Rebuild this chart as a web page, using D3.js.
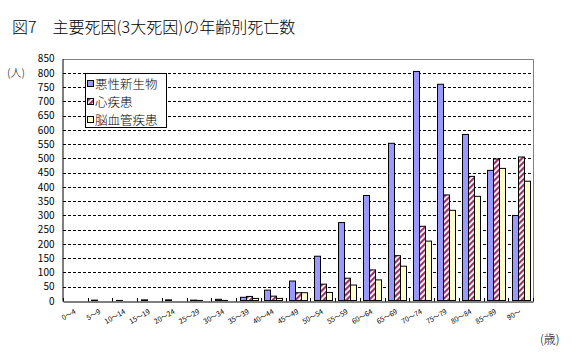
<!DOCTYPE html>
<html><head><meta charset="utf-8">
<script src="https://cdn.jsdelivr.net/npm/d3@7/dist/d3.min.js"></script>
<style>
html,body{margin:0;padding:0;background:#fff;}
svg{display:block;}
text{font-family:"Noto Sans CJK JP","Noto Sans",sans-serif;}
</style></head>
<body>
<svg id="chart" width="580" height="364"></svg>
<script>
const categories = ["0～4","5～9","10～14","15～19","20～24","25～29","30～34","35～39","40～44","45～49","50～54","55～59","60～64","65～69","70～74","75～79","80～84","85～89","90～"];
const seriesNames = ["悪性新生物","心疾患","脳血管疾患"];
const cancer = [1,3,2,4,4,3,6,13,38,70,157,275,370,553,805,760,584,458,300];
const heart = [0,0,1,1,1,2,2,16,17,29,59,80,109,159,262,372,437,498,505];
const stroke = [0,0,0,0,0,1,1,9,9,29,30,56,74,122,210,318,367,465,420];
const yTicks = [0,50,100,150,200,250,300,350,400,450,500,550,600,650,700,750,800,850];

const svg = d3.select("#chart");
const L = 63, R = 533, T = 58.6, B = 301;

const defs = svg.append("defs");
const pat = defs.append("pattern").attr("id","hatch").attr("patternUnits","userSpaceOnUse")
  .attr("width",4).attr("height",4).attr("patternTransform","rotate(45)");
pat.append("rect").attr("width",4).attr("height",4).attr("fill","#fff");
pat.append("rect").attr("width",2.2).attr("height",4).attr("fill","#993366");

const fills = ["#9999FF","url(#hatch)","#FFFFCC"];
const data = [cancer, heart, stroke];

const x0 = d3.scaleBand().domain(categories).range([L,R]).padding(0);
const bw = x0.bandwidth();
const groupW = 18;
const x1 = d3.scaleBand().domain(seriesNames).range([(bw-groupW)/2,(bw+groupW)/2]).padding(0);
const y = d3.scaleLinear().domain([0,850]).range([B,T]);

// title
svg.append("text").attr("x",12).attr("y",33).attr("font-size",16).attr("font-weight",300).attr("fill","#000")
  .text("図7　主要死因(3大死因)の年齢別死亡数");

// gridlines
svg.append("g").selectAll("line").data(yTicks.filter(v=>v>0 && v<850)).join("line")
  .attr("x1",L).attr("x2",R).attr("y1",d=>Math.round(y(d))+0.5).attr("y2",d=>Math.round(y(d))+0.5)
  .attr("stroke","#000").attr("stroke-width",1).attr("stroke-dasharray","3,2");

// plot border top/right (gray)
svg.append("line").attr("x1",L).attr("x2",R+0.5).attr("y1",Math.round(T)+0.5).attr("y2",Math.round(T)+0.5).attr("stroke","#808080");
svg.append("line").attr("x1",R+0.5).attr("x2",R+0.5).attr("y1",Math.round(T)+0.5).attr("y2",B).attr("stroke","#808080");

// bars
const bars = [];
categories.forEach((c,i)=>{
  seriesNames.forEach((s,j)=>{
    const v = data[j][i];
    if (v>0) bars.push({c,s,v,j});
  });
});
svg.append("g").selectAll("rect").data(bars).join("rect")
  .attr("x",d=>Math.round(x0(d.c)+x1(d.s))+0.5)
  .attr("width",Math.round(x1.bandwidth()))
  .attr("y",d=>y(d.v))
  .attr("height",d=>Math.max(0,B-0.5-y(d.v)))
  .attr("fill",d=>fills[d.j]).attr("stroke","#000").attr("stroke-width",1);

// y axis
const yAxis = d3.axisLeft(y).tickValues(yTicks).tickSize(0).tickPadding(8);
const yg = svg.append("g").attr("transform",`translate(${L-0.5},0)`).call(yAxis);
yg.select(".domain").attr("stroke","#000");
yg.selectAll("text").attr("font-family","'Liberation Sans',Arial,sans-serif").attr("font-size",10).attr("fill","#000");

// x axis
const xAxis = d3.axisBottom(x0).tickSize(0).tickFormat("");
const xg = svg.append("g").attr("transform",`translate(0,${Math.round(B)+0.5})`).call(xAxis);
xg.select(".domain").attr("stroke","#000");
xg.selectAll(".tick").remove();
// boundary ticks (inside)
const bounds = categories.map(c=>x0(c)).concat([R]);
svg.append("g").selectAll("line").data(bounds).join("line")
  .attr("x1",d=>Math.round(d)+0.5).attr("x2",d=>Math.round(d)+0.5)
  .attr("y1",Math.round(B)-3).attr("y2",Math.round(B)+0.5).attr("stroke","#000");

// x labels
svg.append("g").selectAll("text").data(categories).join("text")
  .attr("transform",d=>`translate(${x0(d)+bw/2+1},313) rotate(-30)`)
  .attr("text-anchor","end").attr("font-size",7).attr("fill","#000")
  .text(d=>d);

// unit labels
svg.append("text").attr("x",7).attr("y",77).attr("font-size",11).attr("font-weight",300).attr("fill","#000").text("(人)");
svg.append("text").attr("x",540).attr("y",344).attr("font-size",12).attr("font-weight",300).attr("fill","#000").text("(歳)");

// legend
const lg = svg.append("g");
lg.append("rect").attr("x",85.5).attr("y",73.5).attr("width",81).attr("height",54)
  .attr("fill","#fff").attr("stroke","#000");
seriesNames.forEach((s,j)=>{
  const cy = 84 + j*18;
  lg.append("rect").attr("x",87.5).attr("y",cy-3.5).attr("width",6).attr("height",6)
    .attr("fill",fills[j]).attr("stroke","#000");
  lg.append("text").attr("x",95).attr("y",cy+4.5).attr("font-size",12.5).attr("font-weight",300).attr("fill","#000").text(s);
});
</script>
</body></html>
